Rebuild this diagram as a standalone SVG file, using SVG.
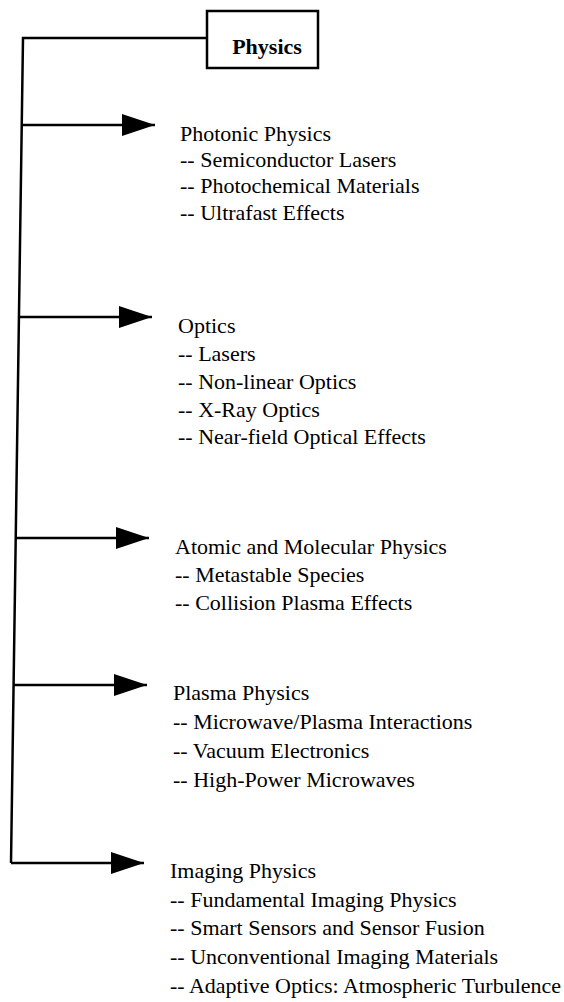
<svg xmlns="http://www.w3.org/2000/svg" width="564" height="1002" viewBox="0 0 564 1002">
<style>
text{font-family:'Liberation Serif','Times New Roman',Times,'DejaVu Serif',serif;font-size:22px;fill:#000}
.b{font-weight:bold}
.ln{stroke:#000;stroke-width:2.5;fill:none}
</style>
<defs>
<marker id="ah" markerUnits="userSpaceOnUse" markerWidth="34" markerHeight="24" refX="33" refY="11" orient="auto" viewBox="0 0 34 24">
<path d="M0,0 L33,11 L0,22 z" fill="#000"/>
</marker>
</defs>
<rect width="564" height="1002" fill="#fff"/>
<g id="connectors">
<path class="ln" d="M207,38 L23,38 L11,863"/>
<line class="ln" x1="21.7" y1="125" x2="155" y2="125" marker-end="url(#ah)"/>
<line class="ln" x1="18.9" y1="317" x2="152" y2="317" marker-end="url(#ah)"/>
<line class="ln" x1="15.7" y1="538" x2="149" y2="538" marker-end="url(#ah)"/>
<line class="ln" x1="13.6" y1="685" x2="147" y2="685" marker-end="url(#ah)"/>
<line class="ln" x1="11" y1="863" x2="144" y2="863" marker-end="url(#ah)"/>
</g>
<g id="physics">
<rect class="ln" x="207" y="11" width="111" height="57"/>
<text class="b" x="267" y="54" text-anchor="middle">Physics</text>
</g>
<g id="photonic">
<text x="180" y="141">Photonic Physics</text>
<text x="180" y="167">-- Semiconductor Lasers</text>
<text x="180" y="193">-- Photochemical Materials</text>
<text x="180" y="220">-- Ultrafast Effects</text>
</g>
<g id="optics">
<text x="178" y="333">Optics</text>
<text x="178" y="361">-- Lasers</text>
<text x="178" y="389">-- Non-linear Optics</text>
<text x="178" y="417">-- X-Ray Optics</text>
<text x="178" y="444">-- Near-field Optical Effects</text>
</g>
<g id="atomic">
<text x="175" y="554">Atomic and Molecular Physics</text>
<text x="175" y="582">-- Metastable Species</text>
<text x="175" y="610">-- Collision Plasma Effects</text>
</g>
<g id="plasma">
<text x="173" y="700">Plasma Physics</text>
<text x="173" y="729">-- Microwave/Plasma Interactions</text>
<text x="173" y="758">-- Vacuum Electronics</text>
<text x="173" y="787">-- High-Power Microwaves</text>
</g>
<g id="imaging">
<text x="170" y="878">Imaging Physics</text>
<text x="170" y="907">-- Fundamental Imaging Physics</text>
<text x="170" y="935">-- Smart Sensors and Sensor Fusion</text>
<text x="170" y="964">-- Unconventional Imaging Materials</text>
<text x="170" y="993">-- Adaptive Optics: Atmospheric Turbulence</text>
</g>
</svg>
